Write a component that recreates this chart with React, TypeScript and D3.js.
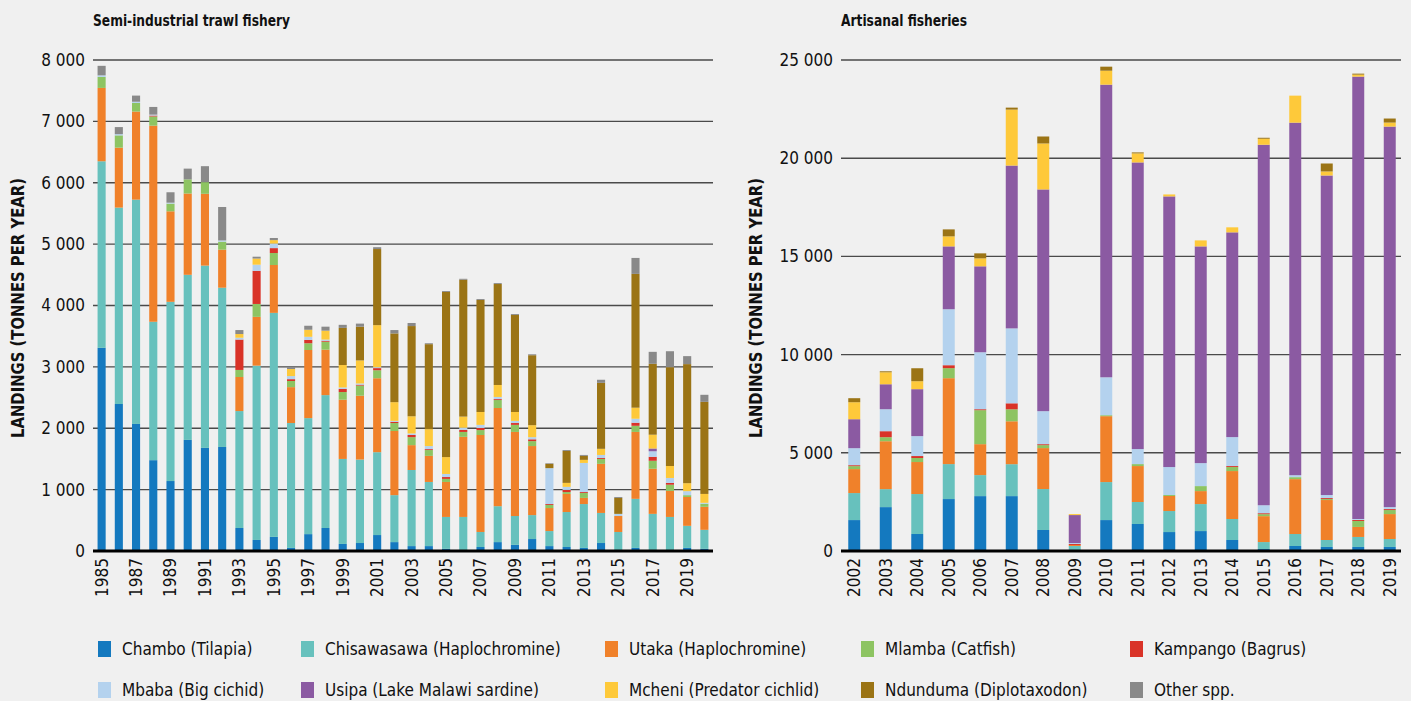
import React from "react";
import * as d3 from "d3";

const species = [
  "Chambo (Tilapia)",
  "Chisawasawa (Haplochromine)",
  "Utaka (Haplochromine)",
  "Mlamba (Catfish)",
  "Kampango (Bagrus)",
  "Mbaba (Big cichid)",
  "Usipa (Lake Malawi sardine)",
  "Mcheni (Predator cichlid)",
  "Ndunduma (Diplotaxodon)",
  "Other spp.",
];
const colors = ["#1479bf", "#67c1bd", "#f0812a", "#8dc462", "#d93328", "#b4d2ee", "#8b5aa2", "#fec93a", "#9b7415", "#898989"];

// semi-industrial trawl, 1985-2020, tonnes per species (same order as species)
const trawlYears = d3.range(1985, 2021).map(String);
const trawlRows = [
  [3310, 3040, 1195, 180, 0, 25, 0, 0, 0, 155],
  [2395, 3200, 977, 200, 0, 20, 0, 0, 0, 115],
  [2070, 3655, 1435, 140, 0, 20, 0, 0, 0, 100],
  [1480, 2255, 3195, 150, 15, 15, 0, 0, 0, 125],
  [1140, 2920, 1475, 125, 0, 15, 0, 0, 0, 170],
  [1810, 2690, 1325, 230, 0, 0, 0, 0, 0, 175],
  [1680, 2970, 1170, 190, 0, 0, 0, 0, 0, 260],
  [1695, 2595, 620, 130, 0, 20, 0, 0, 0, 545],
  [375, 1905, 555, 115, 495, 30, 0, 60, 0, 65],
  [180, 2840, 795, 210, 540, 100, 0, 100, 0, 30],
  [230, 3650, 780, 195, 80, 75, 0, 55, 0, 35],
  [50, 2035, 585, 100, 30, 50, 0, 115, 0, 30],
  [275, 1890, 1110, 110, 55, 50, 0, 115, 0, 65],
  [375, 2165, 740, 130, 15, 20, 0, 145, 0, 65],
  [115, 1385, 965, 125, 50, 25, 0, 365, 605, 50],
  [130, 1360, 1040, 165, 15, 20, 0, 375, 550, 50],
  [260, 1350, 1205, 130, 35, 15, 0, 685, 1240, 30],
  [145, 765, 1045, 130, 20, 15, 0, 305, 1120, 55],
  [80, 1240, 405, 130, 35, 25, 0, 280, 1470, 50],
  [80, 1045, 425, 95, 15, 50, 0, 275, 1385, 15],
  [35, 520, 570, 50, 30, 50, 0, 275, 2690, 15],
  [15, 540, 1305, 80, 35, 35, 0, 180, 2230, 15],
  [65, 245, 1580, 80, 35, 50, 0, 210, 1825, 15],
  [145, 585, 1600, 130, 15, 35, 0, 195, 1645, 15],
  [100, 470, 1370, 115, 30, 35, 0, 145, 1580, 15],
  [195, 390, 1125, 80, 30, 35, 0, 195, 1140, 15],
  [80, 245, 375, 50, 15, 585, 0, 0, 70, 10],
  [65, 570, 295, 30, 35, 50, 0, 65, 520, 15],
  [50, 715, 100, 80, 15, 475, 0, 50, 65, 15],
  [130, 490, 800, 80, 15, 50, 0, 100, 1075, 50],
  [15, 295, 260, 0, 0, 35, 0, 0, 260, 15],
  [50, 800, 1090, 100, 50, 65, 0, 180, 2180, 260],
  [15, 590, 735, 130, 65, 90, 45, 225, 1155, 195],
  [15, 540, 425, 100, 30, 80, 0, 195, 1610, 260],
  [50, 360, 470, 30, 0, 65, 0, 130, 1940, 130],
  [35, 310, 375, 50, 0, 15, 0, 145, 1500, 115],
];

// artisanal, 2002-2019
const artYears = d3.range(2002, 2020).map(String);
const artRows = [
  [1575, 1375, 1220, 150, 50, 865, 1475, 865, 205, 0],
  [2235, 915, 2440, 205, 305, 1120, 1270, 610, 50, 0],
  [865, 2035, 1630, 205, 100, 1015, 2390, 405, 660, 0],
  [2645, 1780, 4375, 510, 150, 2850, 3200, 510, 355, 0],
  [2795, 1070, 1575, 1730, 50, 2900, 4375, 405, 255, 0],
  [2795, 1625, 2185, 610, 305, 3815, 8290, 2850, 100, 0],
  [1070, 2085, 2085, 150, 50, 1680, 11290, 2340, 355, 0],
  [50, 205, 50, 0, 50, 50, 1425, 50, 0, 0],
  [1575, 1935, 3355, 50, 0, 1930, 14900, 710, 205, 0],
  [1375, 1120, 1830, 100, 0, 765, 14595, 460, 50, 0],
  [965, 1070, 765, 50, 0, 1425, 13780, 100, 0, 0],
  [1015, 1375, 660, 255, 0, 1170, 11035, 305, 0, 0],
  [560, 1070, 2440, 205, 50, 1475, 10425, 255, 0, 0],
  [100, 355, 1320, 100, 50, 405, 18355, 305, 50, 0],
  [255, 610, 2795, 100, 0, 100, 17950, 1375, 0, 0],
  [205, 355, 2035, 50, 50, 155, 16270, 205, 405, 0],
  [205, 510, 510, 305, 50, 50, 22525, 100, 50, 0],
  [205, 405, 1270, 205, 50, 100, 19375, 205, 205, 0],
];

const trawlTicks = d3.range(0, 8001, 1000);
const artTicks = d3.range(0, 25001, 5000);

const FONT = '"Liberation Sans Narrow", "DejaVu Sans Condensed", "Roboto", sans-serif';
const fmt = (v: number) => d3.format(",")(v).replace(",", " ");

const top = 60;
const bottom = 551;

function Panel(props: {
  years: string[];
  rows: number[][];
  ticks: number[];
  max: number;
  x0: number;
  x1: number;
  bx0: number;
  bx1: number;
  pad: number;
  title: string;
  titleLen: number;
  axisX: number;
  everyOther: boolean;
}) {
  const { years, rows, ticks, max, x0, x1, bx0, bx1, pad, title, titleLen, axisX, everyOther } = props;
  const y = d3.scaleLinear().domain([0, max]).range([bottom, top]);
  const x = d3.scaleBand().domain(years).range([bx0, bx1]).paddingInner(pad).paddingOuter(pad / 2);
  const table = years.map((yr, i) => {
    const o: any = { year: yr };
    species.forEach((s, j) => (o[s] = rows[i][j]));
    return o;
  });
  const series = d3.stack().keys(species)(table);
  return (
    <g>
      <text
        x={x0}
        y={26}
        fontFamily={FONT}
        fontWeight="bold"
        fontSize={16}
        fill="#111"
        textLength={titleLen}
        lengthAdjust="spacingAndGlyphs"
      >
        {title}
      </text>
      <text
        transform={`translate(${axisX},${308}) rotate(-90)`}
        textAnchor="middle"
        fontFamily={FONT}
        fontWeight="bold"
        fontSize={17}
        fill="#111"
        textLength={260}
        lengthAdjust="spacingAndGlyphs"
      >
        LANDINGS (TONNES PER YEAR)
      </text>
      {ticks.map((t) => (
        <g key={t}>
          {t > 0 && <line x1={x0} x2={x1} y1={y(t)} y2={y(t)} stroke="#4a4a4a" strokeWidth={1.4} />}
          <text x={x0 - 8} y={y(t)} dy="0.35em" textAnchor="end" fontFamily={FONT} fontSize={17} fill="#111">
            {fmt(t)}
          </text>
        </g>
      ))}
      {series.map((s, i) => (
        <g key={species[i]} fill={colors[i]}>
          {s.map((d: any) =>
            d[1] - d[0] > 0 ? (
              <rect
                key={d.data.year}
                x={x(d.data.year)}
                width={x.bandwidth()}
                y={y(d[1])}
                height={y(d[0]) - y(d[1])}
              />
            ) : null
          )}
        </g>
      ))}
      <line x1={x0} x2={x1} y1={y(0)} y2={y(0)} stroke="#000" strokeWidth={3} />
      {years.map((yr, i) =>
        !everyOther || i % 2 === 0 ? (
          <text
            key={yr}
            transform={`translate(${x(yr)! + x.bandwidth() / 2},${bottom + 7}) rotate(-90)`}
            dy="0.35em"
            textAnchor="end"
            fontFamily={FONT}
            fontSize={17}
            fill="#111"
          >
            {yr}
          </text>
        ) : null
      )}
    </g>
  );
}

const legendCols = [98, 301, 605, 861, 1130];
const legendRows = [649, 690];

export default function App() {
  return (
    <div style={{ position: "fixed", left: 0, top: 0, width: 1411, height: 701, background: "#f0f0f0" }}>
      <svg width={1411} height={701} style={{ display: "block" }}>
        <Panel
          years={trawlYears}
          rows={trawlRows}
          ticks={trawlTicks}
          max={8000}
          x0={93}
          x1={713}
          bx0={93}
          bx1={713}
          pad={0.53}
          title="Semi-industrial trawl fishery"
          titleLen={197}
          axisX={24}
          everyOther={true}
        />
        <Panel
          years={artYears}
          rows={artRows}
          ticks={artTicks}
          max={25000}
          x0={841}
          x1={1401}
          bx0={838.5}
          bx1={1405.5}
          pad={0.62}
          title="Artisanal fisheries"
          titleLen={126}
          axisX={762}
          everyOther={false}
        />
        {species.map((s, i) => {
          const cx = legendCols[i % 5];
          const cy = legendRows[Math.floor(i / 5)];
          return (
            <g key={s}>
              <rect x={cx} y={cy - 8} width={13} height={16} fill={colors[i]} />
              <text x={cx + 24} y={cy} dy="0.35em" fontFamily={FONT} fontSize={17} fill="#111">
                {s}
              </text>
            </g>
          );
        })}
      </svg>
    </div>
  );
}
